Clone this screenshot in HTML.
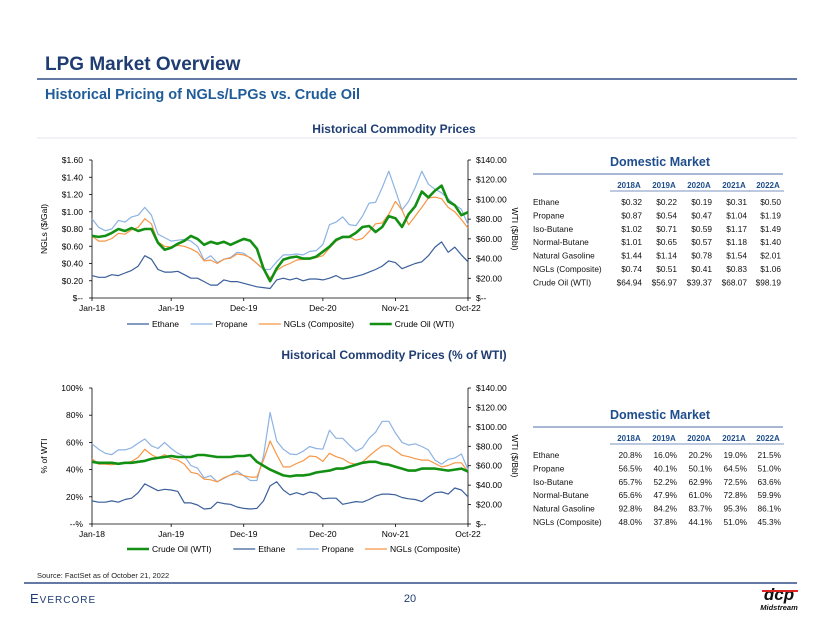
<!DOCTYPE html>
<html><head><meta charset="utf-8">
<style>
body{margin:0;background:#fff;}
svg text{font-family:"Liberation Sans",Arial,sans-serif;}
</style></head>
<body>
<svg id="page" width="820" height="634" viewBox="0 0 820 634" xmlns="http://www.w3.org/2000/svg">
<rect width="820" height="634" fill="#fff"/>
<text x="45" y="70" font-size="19" font-weight="bold" fill="#1F3D72">LPG Market Overview</text>
<line x1="37" y1="79" x2="797" y2="79" stroke="#2F4F86" stroke-width="1.5"/>
<text x="45" y="99" font-size="14.5" font-weight="bold" fill="#1F5C99">Historical Pricing of NGLs/LPGs vs. Crude Oil</text>
<line x1="37" y1="138" x2="797" y2="138" stroke="#E2E6EC" stroke-width="1"/>
<text x="394" y="133" font-size="12" font-weight="bold" fill="#1F3D72" text-anchor="middle">Historical Commodity Prices</text>
<text x="394" y="359" font-size="12" font-weight="bold" fill="#1F3D72" text-anchor="middle">Historical Commodity Prices (% of WTI)</text>
<g id="c1"></g>
<g id="c2"></g>
<g id="t1"></g>
<g id="t2"></g>
<text x="37" y="578" font-size="7.5" fill="#222">Source: FactSet as of October 21, 2022</text>
<line x1="24" y1="583" x2="797" y2="583" stroke="#2F4F86" stroke-width="1.5"/>
<text x="30" y="603" font-size="13" fill="#1F3D72" font-family="Liberation Serif,serif" letter-spacing="1">E<tspan font-size="10">VERCORE</tspan></text>
<text x="410" y="602" font-size="11" fill="#1F3D72" text-anchor="middle">20</text>
<g>
<text x="779" y="600" font-size="17" font-weight="bold" font-style="italic" fill="#111" text-anchor="middle">dcp</text>
<rect x="762" y="590" width="36" height="2" fill="#D22"/>
<text x="779" y="610" font-size="7.5" font-weight="bold" font-style="italic" fill="#111" text-anchor="middle">Midstream</text>
</g>
</svg>
<script>
const NS="http://www.w3.org/2000/svg";
const months=58;
const xTickLabels=["Jan-18","Jan-19","Dec-19","Dec-20","Nov-21","Oct-22"];
const xTickIdx=[0,12,23,35,46,57];
// Chart 1 ($/gal and $/bbl)
const ethane=[0.26,0.24,0.24,0.27,0.26,0.29,0.32,0.37,0.49,0.45,0.33,0.30,0.30,0.31,0.27,0.23,0.23,0.19,0.15,0.15,0.21,0.19,0.19,0.17,0.15,0.13,0.12,0.11,0.21,0.23,0.21,0.23,0.20,0.22,0.22,0.21,0.23,0.26,0.22,0.23,0.25,0.27,0.30,0.33,0.37,0.43,0.41,0.34,0.37,0.40,0.42,0.49,0.59,0.65,0.53,0.59,0.50,0.42];
const propane=[0.92,0.82,0.78,0.80,0.90,0.88,0.94,0.96,1.05,0.96,0.74,0.70,0.66,0.67,0.68,0.66,0.60,0.44,0.49,0.41,0.45,0.47,0.53,0.52,0.46,0.40,0.33,0.33,0.42,0.50,0.50,0.51,0.50,0.54,0.55,0.62,0.85,0.88,0.94,0.85,0.84,0.95,1.10,1.11,1.28,1.47,1.25,1.02,1.12,1.28,1.47,1.32,1.26,1.22,1.15,1.08,1.03,0.85];
const ngl=[0.72,0.66,0.66,0.69,0.75,0.74,0.79,0.82,0.92,0.86,0.65,0.60,0.59,0.61,0.60,0.57,0.53,0.43,0.44,0.40,0.45,0.46,0.51,0.50,0.47,0.40,0.34,0.23,0.32,0.37,0.40,0.44,0.45,0.45,0.47,0.49,0.58,0.66,0.70,0.71,0.67,0.69,0.77,0.86,0.87,0.97,1.12,1.02,0.85,0.95,1.05,1.16,1.17,1.15,1.05,1.00,0.91,0.81];
const wti=[63,62,63,66,70,68,71,68,70,70,56,49,51,55,58,63,60,54,57,55,57,54,57,60,58,50,30,17,30,39,41,42,40,40,42,47,52,59,62,62,66,72,73,67,72,83,81,72,85,93,108,102,109,114,98,94,84,87];
const leftTicks1=["$--","$0.20","$0.40","$0.60","$0.80","$1.00","$1.20","$1.40","$1.60"];
const rightTicks=["$--","$20.00","$40.00","$60.00","$80.00","$100.00","$120.00","$140.00"];
// Chart 2 (% of WTI, crude on $ axis)
const wtiSmooth=[64,63,63,63,62,63,63,64,65,67,68,69,70,69,69,69,71,71,70,69,69,69,70,70,71,64,60,56,53,50,49,50,50,51,53,54,55,57,57,59,61,63,64,64,62,61,59,57,55,55,57,57,57,56,55,56,57,54];
const ethanePct=[17,16,16,17,16,18,19,23,29.5,27,24.5,25.5,25,24,15.5,15.5,14,11,11.5,16,15,14.5,12.5,11.5,11,11.5,17,28,31,25,21.5,23,21.5,23.5,22.5,18.5,19,19,14.5,15.5,16.5,16,18,20.5,22,22,21.5,19.5,18.5,18,16.5,20,23,23.5,22,26.5,25,20];
const propanePct=[59,55,52,51,54.5,54.5,56,59.5,62.5,57.5,55.5,60,55.5,52,50,43,41,34,35.5,31,33.5,36,39,35.5,32,32,50,82,61,55,51.5,51,53.5,57,55.5,55,69,63,63,58,53.5,56,63,67.5,75.5,75.5,67,60,58,59,57,54.5,47,44,47.5,48.5,51.5,40];
const nglPct=[48,44,44,43.5,44.5,45,46,49,55,51,48.5,51,48,47,44,38,37,33,32.5,31,34,36,37,35.5,34.5,34.5,47,61,51,42,42,44.5,46.5,50,49.5,46,52,49.5,48,45,44,45.5,50,54,57.5,57.5,54,50.5,49.5,48,47,47,44.5,42,43,45,45,38.5];
const leftTicks2=["--%","20%","40%","60%","80%","100%"];
// Tables
const years=["2018A","2019A","2020A","2021A","2022A"];
const t1Rows=["Ethane","Propane","Iso-Butane","Normal-Butane","Natural Gasoline","NGLs (Composite)","Crude Oil (WTI)"];
const t1Vals=[["$0.32","$0.22","$0.19","$0.31","$0.50"],["$0.87","$0.54","$0.47","$1.04","$1.19"],["$1.02","$0.71","$0.59","$1.17","$1.49"],["$1.01","$0.65","$0.57","$1.18","$1.40"],["$1.44","$1.14","$0.78","$1.54","$2.01"],["$0.74","$0.51","$0.41","$0.83","$1.06"],["$64.94","$56.97","$39.37","$68.07","$98.19"]];
const t2Rows=["Ethane","Propane","Iso-Butane","Normal-Butane","Natural Gasoline","NGLs (Composite)"];
const t2Vals=[["20.8%","16.0%","20.2%","19.0%","21.5%"],["56.5%","40.1%","50.1%","64.5%","51.0%"],["65.7%","52.2%","62.9%","72.5%","63.6%"],["65.6%","47.9%","61.0%","72.8%","59.9%"],["92.8%","84.2%","83.7%","95.3%","86.1%"],["48.0%","37.8%","44.1%","51.0%","45.3%"]];

function mk(tag,attrs,parent,text){const e=document.createElementNS(NS,tag);for(const k in attrs)e.setAttribute(k,attrs[k]);if(text!==undefined)e.textContent=text;parent.appendChild(e);return e;}

function chart(g,o){
  const x0=92,x1=468,yT=o.yT,yB=o.yB;
  const xs=i=>x0+(x1-x0)*i/(months-1);
  const yL=v=>yB-(yB-yT)*v/o.lMax;
  const yR=v=>yB-(yB-yT)*v/140;
  mk("line",{x1:x0,y1:yT,x2:x0,y2:yB,stroke:"#000","stroke-width":0.8},g);
  mk("line",{x1:x1,y1:yT,x2:x1,y2:yB,stroke:"#000","stroke-width":0.8},g);
  mk("line",{x1:x0,y1:yB,x2:x1,y2:yB,stroke:"#000","stroke-width":0.8},g);
  o.lTicks.forEach((t,i)=>{const y=yB-(yB-yT)*i/(o.lTicks.length-1);
    mk("line",{x1:x0-3,y1:y,x2:x0,y2:y,stroke:"#000","stroke-width":0.8},g);
    const e=mk("text",{x:x0-9,y:y+3,"font-size":8.5,"text-anchor":"end",fill:"#000"},g,t);
    
    });
  rightTicks.forEach((t,i)=>{const y=yR(i*20);
    mk("line",{x1:x1,y1:y,x2:x1+3,y2:y,stroke:"#000","stroke-width":0.8},g);
    const e=mk("text",{x:x1+8,y:y+3,"font-size":8.5,fill:"#000"},g,t);
    
    });
  xTickLabels.forEach((t,i)=>{const x=xs(xTickIdx[i]);
    mk("line",{x1:x,y1:yB,x2:x,y2:yB+3,stroke:"#000","stroke-width":0.8},g);
    const e=mk("text",{x:x,y:yB+13,"font-size":8.5,"text-anchor":"middle",fill:"#000"},g,t);
    
    });
  const ly=(yT+yB)/2;
  const lt=mk("text",{x:0,y:0,"font-size":8.5,"text-anchor":"middle",transform:`translate(47,${ly}) rotate(-90)`},g,o.lTitle);
  
  
  const rt=mk("text",{x:0,y:0,"font-size":8.5,"text-anchor":"middle",transform:`translate(512,${ly}) rotate(90)`},g,"WTI ($/Bbl)");
  
  
  o.series.forEach(s=>{
    const sc=s.axis==="r"?yR:yL;
    const p=mk("polyline",{points:s.data.map((v,i)=>xs(i).toFixed(1)+","+sc(v).toFixed(1)).join(" "),fill:"none",stroke:s.color,"stroke-width":s.w,"stroke-linejoin":"round"},g);
    
    
  });
  let lx=o.legX;
  o.legend.forEach(s=>{
    const lg=mk("g",{},g);
    
    
    mk("line",{x1:lx,y1:o.legY-3,x2:lx+22,y2:o.legY-3,stroke:s.color,"stroke-width":s.w},lg);
    mk("text",{x:lx+25,y:o.legY,"font-size":8.5},lg,s.label);
    lx+=25+s.label.length*4.75+10;
  });
}
const C={eth:"#3A5F9A",pro:"#8DB3E2",ngl:"#F79646",wti:"#139013"};
const s1=[{name:"ethane",label:"Ethane",data:ethane,color:C.eth,w:1.2,axis:"l"},{name:"propane",label:"Propane",data:propane,color:C.pro,w:1.2,axis:"l"},{name:"ngl",label:"NGLs (Composite)",data:ngl,color:C.ngl,w:1.2,axis:"l"},{name:"crude",label:"Crude Oil (WTI)",data:wti,color:C.wti,w:2.6,axis:"r"}];
chart(document.getElementById("c1"),{yT:160,yB:298,lMax:1.6,lTicks:leftTicks1,lTitle:"NGLs ($/Gal)",series:s1,legend:s1,legX:127,legY:327});
const s2=[{name:"crude",label:"Crude Oil (WTI)",data:wtiSmooth,color:C.wti,w:2.6,axis:"r"},{name:"ethane",label:"Ethane",data:ethanePct,color:C.eth,w:1.2,axis:"l"},{name:"propane",label:"Propane",data:propanePct,color:C.pro,w:1.2,axis:"l"},{name:"ngl",label:"NGLs (Composite)",data:nglPct,color:C.ngl,w:1.2,axis:"l"}];
chart(document.getElementById("c2"),{yT:388,yB:524,lMax:100,lTicks:leftTicks2,lTitle:"% of WTI",series:[s2[1],s2[2],s2[3],s2[0]],legend:s2,legX:127,legY:552});

function table(g,y0,rows,vals){
  const t=mk("text",{x:660,y:y0,"font-size":12.5,"font-weight":"bold",fill:"#1F4E8C","text-anchor":"middle"},g,"Domestic Market");
  
  
  mk("line",{x1:533,y1:y0+8,x2:783,y2:y0+8,stroke:"#4F6FA8","stroke-width":1},g);
  const colR=[642,677,712,747,781];
  years.forEach((yr,i)=>{
    const h=mk("text",{x:colR[i]-13,y:y0+22,"font-size":8,"font-weight":"bold",fill:"#1F4E8C","text-anchor":"middle"},g,yr);
    
    
    mk("line",{x1:colR[i]-32,y1:y0+25,x2:colR[i]+3,y2:y0+25,stroke:"#4F6FA8","stroke-width":0.8},g);
  });
  rows.forEach((r,j)=>{
    const y=y0+39+j*13.4;
    const l=mk("text",{x:533,y:y,"font-size":8.3,fill:"#111"},g,r);
    
    
    vals[j].forEach((v,i)=>{
      const c=mk("text",{x:colR[i],y:y,"font-size":8.3,fill:"#111","text-anchor":"end"},g,v);
      
      
    });
  });
}
table(document.getElementById("t1"),166,t1Rows,t1Vals);
table(document.getElementById("t2"),419,t2Rows,t2Vals);
</script>
</body></html>
